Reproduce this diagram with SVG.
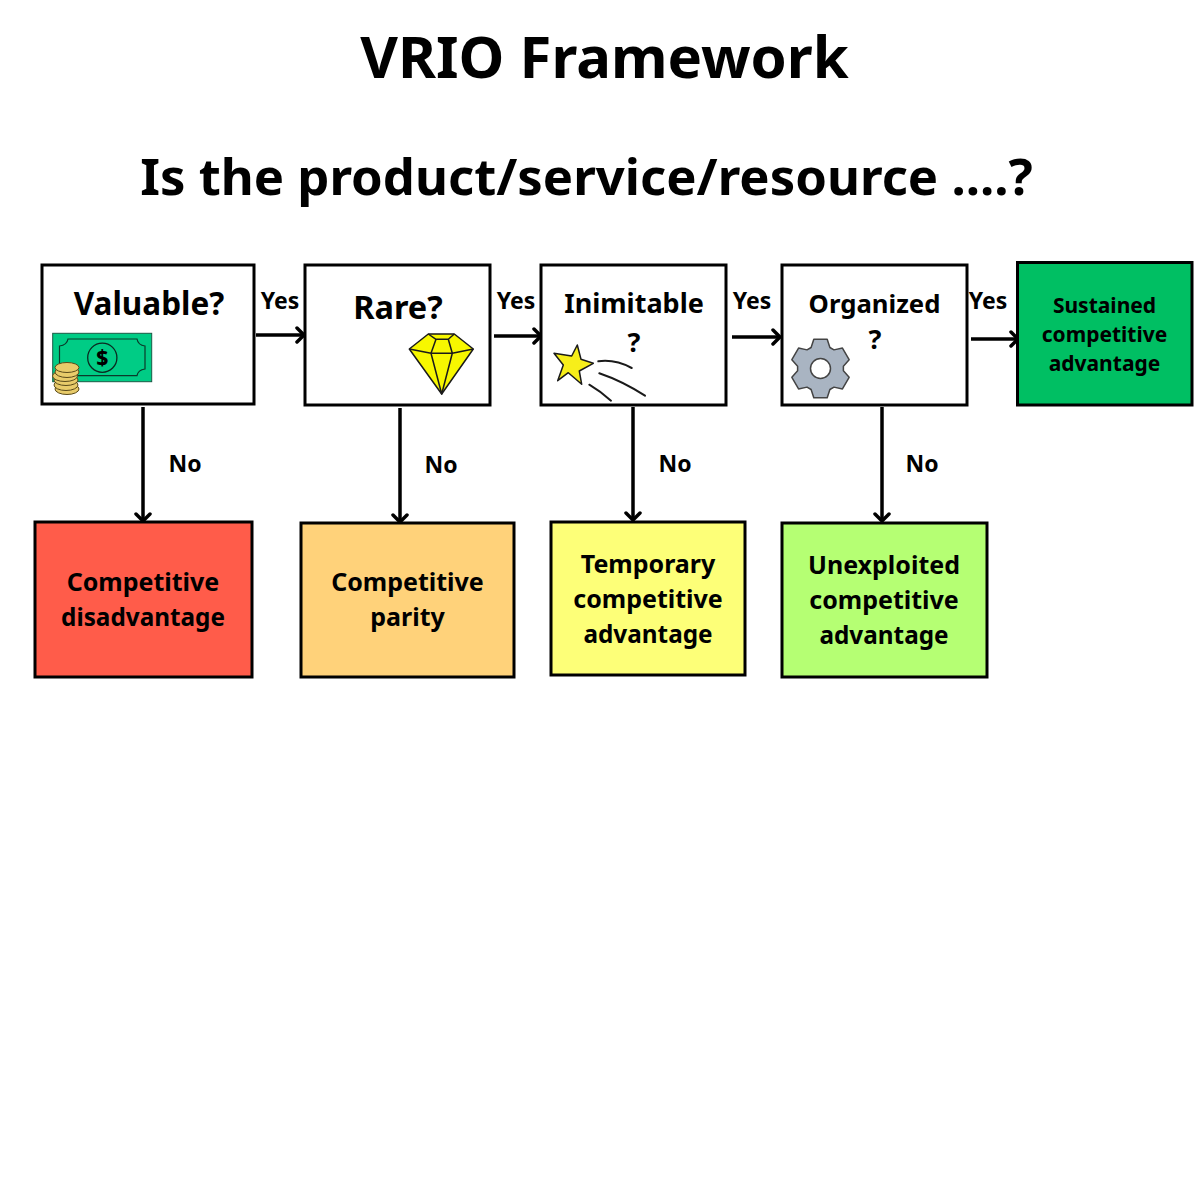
<svg xmlns="http://www.w3.org/2000/svg" width="1200" height="1200" viewBox="0 0 1200 1200">
<style>
text{font-family:"Noto Sans","Open Sans","Liberation Sans",sans-serif;font-weight:700;fill:#000;text-anchor:middle}
.box{stroke:#000;stroke-width:3}
.t1{font-size:31.5px}.t2{font-size:27px}.t3{font-size:25px}.t4{font-size:21px}.lab{font-size:23px}
.adv{font-size:24.3px}
.ic{stroke:#1a1a1a;stroke-width:1.5;stroke-linejoin:round}
.conn{fill:none;stroke:#000;stroke-width:3.5}
.head{fill:none;stroke:#000;stroke-width:3.5;stroke-linecap:round;stroke-linejoin:round}
.coin{fill:#e8cb6a;stroke:#5a4a1a;stroke-width:1}
</style>
<defs>
<marker id="arr" viewBox="0 0 16 20" refX="14" refY="10" markerWidth="16" markerHeight="20" markerUnits="userSpaceOnUse" orient="auto"><path class="head" d="M7 3L14 10L7 17"/></marker>
</defs>
<rect width="1200" height="1200" fill="#fff"/>
<text id="title" x="604.5" y="78" font-size="58">VRIO Framework</text>
<text id="subtitle" x="586.5" y="195" font-size="50.8">Is the product/service/resource ....?</text>

<g id="connectors" class="conn">
<path d="M256 335H304" marker-end="url(#arr)"/>
<path d="M494 336H541" marker-end="url(#arr)"/>
<path d="M732 337H780" marker-end="url(#arr)"/>
<path d="M971 339H1018" marker-end="url(#arr)"/>
<path d="M143 407V521" marker-end="url(#arr)"/>
<path d="M400 408V522" marker-end="url(#arr)"/>
<path d="M633 407V520" marker-end="url(#arr)"/>
<path d="M882 407V521" marker-end="url(#arr)"/>
</g>
<g id="connector-labels" class="lab">
<text class="lab" x="280" y="309">Yes</text>
<text class="lab" x="516" y="309">Yes</text>
<text class="lab" x="752" y="309">Yes</text>
<text class="lab" x="988" y="309">Yes</text>
<text class="lab" x="185" y="472">No</text>
<text class="lab" x="441" y="473">No</text>
<text class="lab" x="675" y="472">No</text>
<text class="lab" x="922" y="472">No</text>
</g>

<g id="valuable">
<rect class="box" x="42" y="265" width="212" height="139" fill="#fff"/>
<text class="t1" x="149" y="315">Valuable?</text>
<rect x="52.7" y="333.3" width="99" height="48.4" fill="#00cc85" stroke="#1a5a45" stroke-width="1"/>
<path d="M68 339H137Q138 345 145 346V369Q138 370 137 375.7H68Q67 370 59.5 369V346Q67 345 68 339Z" fill="none" stroke="#0a3a2a" stroke-width="1.2"/>
<circle cx="102.3" cy="357.7" r="14.6" fill="none" stroke="#0a2a20" stroke-width="1.3"/>
<text x="102.3" y="365" font-size="21" style="font-weight:800">$</text>
<g id="coins">
<ellipse class="coin" cx="67" cy="389" rx="12" ry="5.5"/>
<ellipse class="coin" cx="66" cy="385" rx="12" ry="5.5"/>
<ellipse class="coin" cx="66" cy="380" rx="12" ry="5.5"/>
<ellipse class="coin" cx="65" cy="376" rx="12.5" ry="5.5"/>
<ellipse class="coin" cx="67" cy="372" rx="12" ry="5.5"/>
<ellipse class="coin" cx="67" cy="367.5" rx="12" ry="5"/>
</g>
</g>

<g id="rare">
<rect class="box" x="305" y="265" width="185" height="140" fill="#fff"/>
<text x="398" y="319" font-size="32.5">Rare?</text>
<path class="ic" d="M428.3 334H454.3L473.3 349L441.7 394L409.3 349Z" fill="#f7f700"/>
<path class="ic" fill="none" d="M428.3 334L436 339.3H448.3L454.3 334M436 339.3L431 353.3L409.3 349M448.3 339.3L452.3 353.3L473.3 349M431 353.3H452.3M431 353.3L441.7 394L452.3 353.3"/>
</g>

<g id="inimitable">
<rect class="box" x="541" y="265" width="185" height="140" fill="#fff"/>
<text class="t2" x="634" y="313">Inimitable</text>
<text class="t2" x="634" y="352">?</text>
<path class="ic" d="M577.3 345L581 359.3L593.3 363.3L579.3 371L581.7 384.3L568.3 372.7L557.7 380.7L563.3 365L554 353.3L571.7 356Z" fill="#f7ee1a"/>
<path d="M598.3 361.3Q615 359 631.7 368M599.3 373.3Q622 381 645 395.7M589.3 384.7Q600 391 611 400.7" fill="none" stroke="#1a1a1a" stroke-width="2" stroke-linecap="round"/>
</g>

<g id="organized">
<rect class="box" x="782" y="265" width="185" height="140" fill="#fff"/>
<text x="874.5" y="313" font-size="25.7">Organized</text>
<text class="t2" x="875" y="349">?</text>
<path transform="translate(820.5 368.5)" fill="#a9b4c2" stroke="#444" stroke-width="1.5" stroke-linejoin="round" d="M-9.4 -21L-6.7 -29.2H6.7L9.4 -21L13.49 -18.64L21.94 -20.4L28.64 -8.8L22.89 -2.36V2.36L28.64 8.8L21.94 20.4L13.49 18.64L9.4 21L6.7 29.2H-6.7L-9.4 21L-13.49 18.64L-21.94 20.4L-28.64 8.8L-22.89 2.36V-2.36L-28.64 -8.8L-21.94 -20.4L-13.49 -18.64ZM10 0A10 10 0 1 0 -10 0A10 10 0 1 0 10 0Z" fill-rule="evenodd"/>
</g>

<g id="sustained">
<rect class="box" x="1017.5" y="262.5" width="174.5" height="142.5" fill="#00bf63"/>
<text class="t4" x="1104.5" y="313">Sustained</text>
<text class="t4" x="1104.5" y="342">competitive</text>
<text class="t4" x="1104.5" y="371">advantage</text>
</g>

<g id="disadvantage">
<rect class="box" x="35" y="522" width="217" height="155" fill="#ff5c4a"/>
<text class="t3" x="143" y="591">Competitive</text>
<text class="adv" x="143" y="626">disadvantage</text>
</g>
<g id="parity">
<rect class="box" x="301" y="523" width="213" height="154" fill="#ffd27a"/>
<text class="t3" x="407.5" y="591">Competitive</text>
<text class="t3" x="407.5" y="626">parity</text>
</g>
<g id="temporary">
<rect class="box" x="551" y="522" width="194" height="153" fill="#fdff78"/>
<text class="t3" x="648" y="573">Temporary</text>
<text class="t3" x="648" y="608">competitive</text>
<text class="adv" x="648" y="643">advantage</text>
</g>
<g id="unexploited">
<rect class="box" x="782" y="523" width="205" height="154" fill="#b5ff73"/>
<text class="t3" x="884" y="574">Unexploited</text>
<text class="t3" x="884" y="609">competitive</text>
<text class="adv" x="884" y="644">advantage</text>
</g>
</svg>
